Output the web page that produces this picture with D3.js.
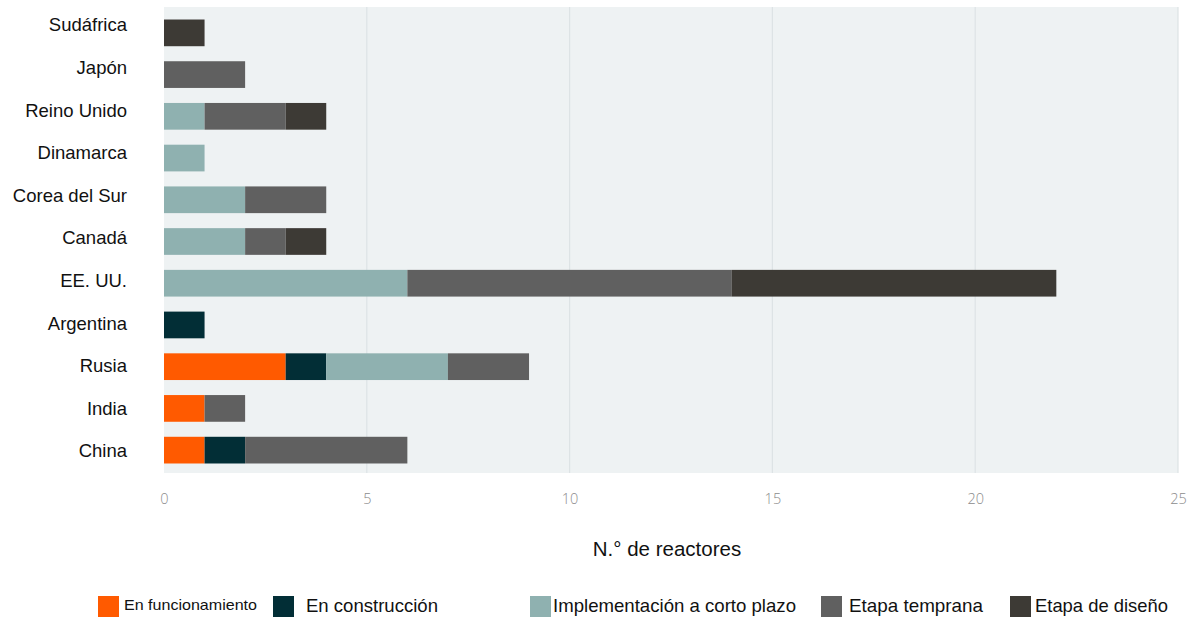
<!DOCTYPE html>
<html>
<head>
<meta charset="utf-8">
<script src="https://cdn.jsdelivr.net/npm/d3@7"></script>
<style>
  html, body { margin: 0; padding: 0; background: #fff; }
  svg { display: block; }
</style>
</head>
<body>
<svg id="chart" width="1196" height="617"></svg>
<script>
// Countries, top to bottom
const countries = ["Sudáfrica", "Japón", "Reino Unido", "Dinamarca", "Corea del Sur", "Canadá", "EE. UU.", "Argentina", "Rusia", "India", "China"];

// Reactor counts per stage (same order as countries)
const enFuncionamiento = [0, 0, 0, 0, 0, 0, 0, 0, 3, 1, 1];
const enConstruccion   = [0, 0, 0, 0, 0, 0, 0, 1, 1, 0, 1];
const cortoPlazo       = [0, 0, 1, 1, 2, 2, 6, 0, 3, 0, 0];
const etapaTemprana    = [0, 2, 2, 0, 2, 1, 8, 0, 2, 1, 4];
const etapaDiseno      = [1, 0, 1, 0, 0, 1, 8, 0, 0, 0, 0];

const seriesNames = ["En funcionamiento", "En construcción", "Implementación a corto plazo", "Etapa temprana", "Etapa de diseño"];
const seriesColors = ["#ff5a00", "#022e36", "#8fb1b0", "#606060", "#3d3a35"];
const xTicks = [0, 5, 10, 15, 20, 25];
const xTitle = "N.° de reactores";

const table = countries.map((c, i) => ({
  country: c,
  [seriesNames[0]]: enFuncionamiento[i],
  [seriesNames[1]]: enConstruccion[i],
  [seriesNames[2]]: cortoPlazo[i],
  [seriesNames[3]]: etapaTemprana[i],
  [seriesNames[4]]: etapaDiseno[i]
}));

const svg = d3.select("#chart");
const plot = { left: 164, right: 1178, top: 7, bottom: 473 };

const x = d3.scaleLinear().domain([0, 25]).range([plot.left, plot.right]);
const y = d3.scaleBand().domain(countries).range([12, 471]).paddingInner(0.36).paddingOuter(0.18);
// Category labels sit on their own evenly spaced grid
const yLabel = d3.scalePoint().domain(countries).range([25, 451]);
const color = d3.scaleOrdinal().domain(seriesNames).range(seriesColors);

// Plot background
svg.append("rect")
  .attr("x", plot.left).attr("y", plot.top)
  .attr("width", plot.right - plot.left).attr("height", plot.bottom - plot.top)
  .attr("fill", "#eef2f3");

// Vertical gridlines
svg.append("g").selectAll("line")
  .data(xTicks.filter(d => d > 0))
  .join("line")
  .attr("x1", d => x(d)).attr("x2", d => x(d))
  .attr("y1", plot.top).attr("y2", plot.bottom)
  .attr("stroke", "#dde3e5").attr("stroke-width", 1.2);

// Stacked bars
const stacked = d3.stack().keys(seriesNames)(table);
svg.append("g").selectAll("g")
  .data(stacked)
  .join("g")
  .attr("fill", d => color(d.key))
  .selectAll("rect")
  .data(d => d.filter(s => s[1] > s[0]))
  .join("rect")
  .attr("x", d => x(d[0]))
  .attr("y", d => y(d.data.country))
  .attr("width", d => x(d[1]) - x(d[0]))
  .attr("height", y.bandwidth());

// Country labels
svg.append("g").selectAll("text")
  .data(countries)
  .join("text")
  .attr("x", 127)
  .attr("y", d => yLabel(d))
  .attr("dy", "0.35em")
  .attr("text-anchor", "end")
  .attr("font-family", "Liberation Sans, Arial, sans-serif")
  .attr("font-size", 18.5)
  .attr("fill", "#111")
  .text(d => d);

// X axis ticks
const xAxis = d3.axisBottom(x).tickValues(xTicks).tickSize(0).tickPadding(0);
const gx = svg.append("g").attr("transform", `translate(0, 504)`).call(xAxis);
gx.select(".domain").remove();
gx.selectAll("text")
  .attr("font-family", "Open Sans, sans-serif")
  .attr("font-size", 14.5)
  .attr("font-weight", 300)
  .attr("fill", "#8c8c8c")
  .attr("dy", 0);

// X axis title
svg.append("text")
  .attr("x", 667).attr("y", 556)
  .attr("text-anchor", "middle")
  .attr("font-family", "Liberation Sans, Arial, sans-serif")
  .attr("font-size", 20.5)
  .attr("fill", "#111")
  .text(xTitle);

// Legend
const legendItems = [
  { name: seriesNames[0], sx: 98, tx: 124, size: 14.5, len: 133 },
  { name: seriesNames[1], sx: 273, tx: 306, size: 18.5, len: 132 },
  { name: seriesNames[2], sx: 530, tx: 553, size: 18.5, len: 243 },
  { name: seriesNames[3], sx: 821, tx: 849, size: 18.5, len: 134 },
  { name: seriesNames[4], sx: 1010, tx: 1035, size: 18.5, len: 133 }
];
const lg = svg.append("g").selectAll("g").data(legendItems).join("g");
lg.append("rect")
  .attr("x", d => d.sx).attr("y", 596)
  .attr("width", 21).attr("height", 21)
  .attr("fill", d => color(d.name));
lg.append("text")
  .attr("x", d => d.tx).attr("y", d => d.size < 16 ? 610 : 612)
  .attr("font-family", "Liberation Sans, Arial, sans-serif")
  .attr("font-size", d => d.size)
  .attr("textLength", d => d.len)
  .attr("lengthAdjust", "spacingAndGlyphs")
  .attr("fill", "#111")
  .text(d => d.name);
</script>
</body>
</html>
